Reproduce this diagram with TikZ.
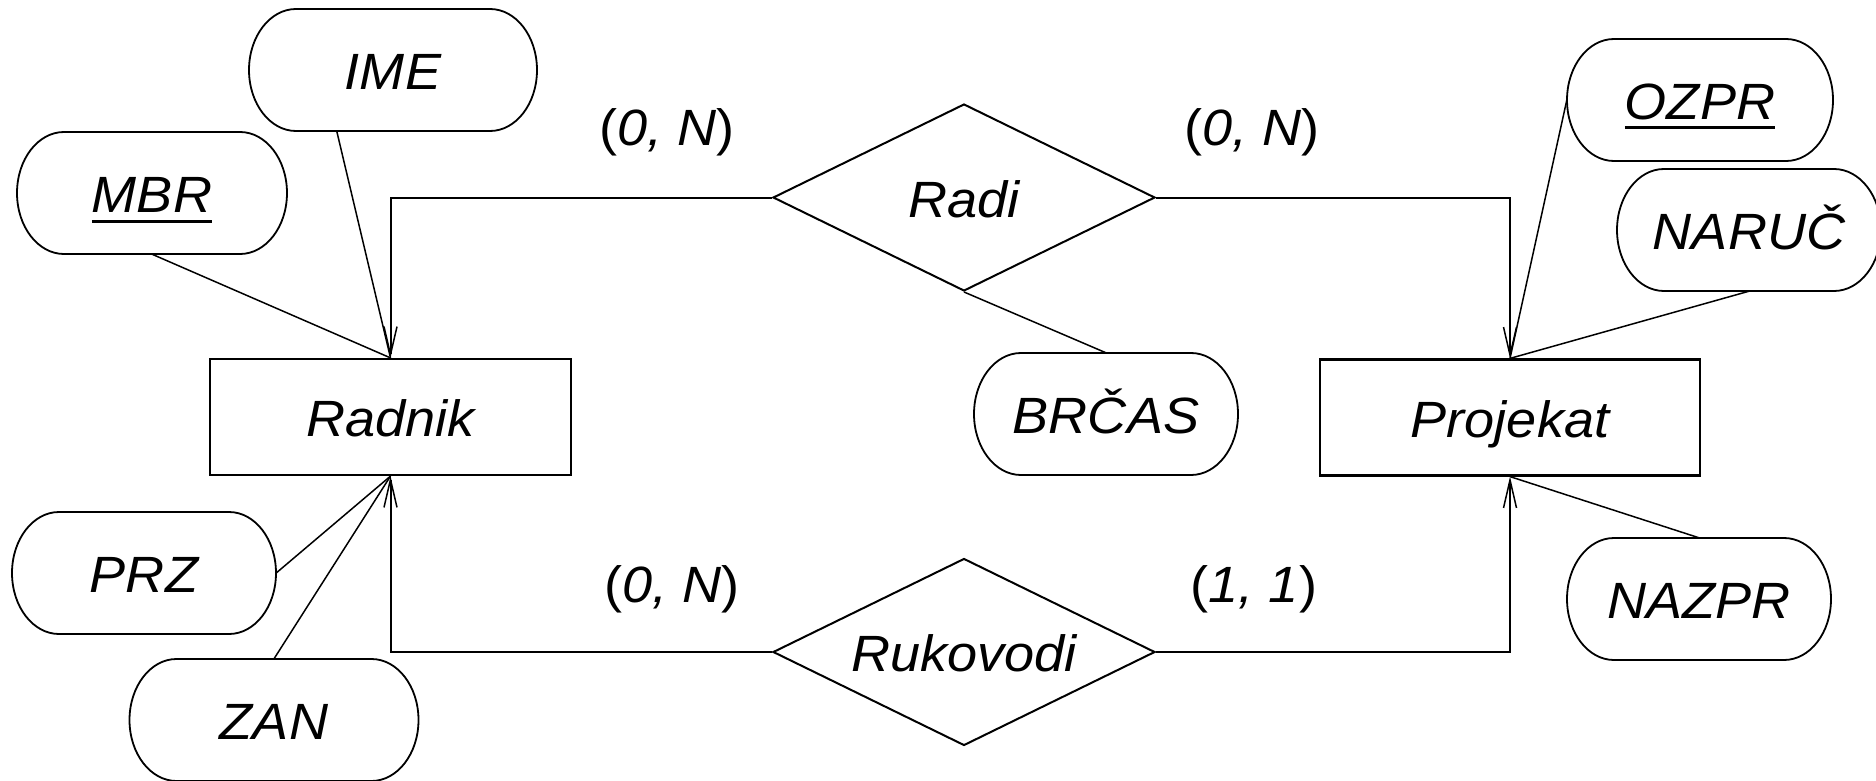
\documentclass[tikz,border=0pt]{standalone}
\usepackage{fontspec}
\setmainfont{Liberation Sans}[FakeStretch=1.06]
\usetikzlibrary{arrows.meta,shapes.geometric,calc}
\newsavebox\ulbox
\newcommand\keyul[1]{\sbox\ulbox{#1}\rlap{\raisebox{-10pt}{\rule{\wd\ulbox}{3pt}}}\usebox\ulbox}
\newcommand\attrib[5]{%
  \node[attr, minimum width=#4] (#1) at (#2,#3) {#5};
  \draw[attrline] (#2-#4/2+47,#3-61) -- (#2+#4/2-47,#3-61)
    arc[start angle=-90,end angle=90,x radius=47,y radius=61]
    -- (#2-#4/2+47,#3+61)
    arc[start angle=90,end angle=270,x radius=47,y radius=61] -- cycle;
}
\tikzset{
  every node/.style={font=\fontsize{51}{58}\selectfont\itshape},
  attr/.style={inner sep=0pt, minimum height=122, text height=39pt, text depth=0pt},
  attrline/.style={line width=1.8pt},
  entity/.style={draw, line width=2.2pt, inner sep=0pt, minimum height=116,
    text height=39pt, text depth=0pt},
  rel/.style={diamond, draw, line width=2pt, aspect=2, inner sep=0pt,
    minimum width=382, minimum height=187, text height=39pt, text depth=0pt},
  card/.style={inner sep=0pt, text height=39pt, text depth=0pt},
  rline/.style={line width=2pt},
  aline/.style={line width=1.5pt},
  arr/.style={-{Straight Barb[length=28pt,width=13pt,line width=1.5pt]}},
}
\begin{document}
\begin{tikzpicture}[x=1pt,y=-1pt]
\useasboundingbox (0,0) rectangle (1876,781);
% entities
\node[entity, minimum width=361] (radnik) at (390.5,417) {Radnik};
\node[entity, minimum width=380] (projekat) at (1510,417.5) {Projekat};
% relationships
\node[rel] (radi) at (964,197.5) {Radi};
\node[rel] (ruk) at (964,652) {Rukovodi};
% attributes
\attrib{ime}{393}{70}{288}{IME}
\attrib{mbr}{152}{193}{270}{\keyul{MBR}}
\attrib{prz}{144}{573}{264}{PRZ}
\attrib{zan}{274}{720}{289}{ZAN}
\attrib{brcas}{1106}{414}{264}{BRČAS}
\attrib{ozpr}{1700}{100}{266}{\keyul{OZPR}}
\attrib{naruc}{1749}{230}{264}{NARUČ}
\attrib{nazpr}{1699}{599}{264}{NAZPR}
% cardinalities
\node[card] (c1) at (667,126) {{\upshape(}0, N{\upshape)}};
\node[card] (c2) at (1252,126) {{\upshape(}0, N{\upshape)}};
\node[card] (c3) at (672,583) {{\upshape(}0, N{\upshape)}};
\node[card] (c4) at (1254,583) {{\upshape(}1, 1{\upshape)}};
% relationship connectors
\draw[rline,arr] (radi.west) -| (radnik.north);
\draw[rline,arr] (radi.east) -| (projekat.north);
\draw[rline,arr] (ruk.west) -| (radnik.south);
\draw[rline,arr] (ruk.east) -| (projekat.south);
% attribute connectors
\draw[aline] (mbr.south) -- (radnik.north);
\draw[aline] ($(ime.south west)!0.305!(ime.south east)$) -- (radnik.north);
\draw[aline] (prz.east) -- (radnik.south);
\draw[aline] (zan.north) -- (radnik.south);
\draw[aline] (ozpr.west) -- (projekat.north);
\draw[aline] (naruc.south) -- (projekat.north);
\draw[aline] (nazpr.north) -- (projekat.south);
\draw[aline] (radi.south) -- (brcas.north);
\end{tikzpicture}
\end{document}
